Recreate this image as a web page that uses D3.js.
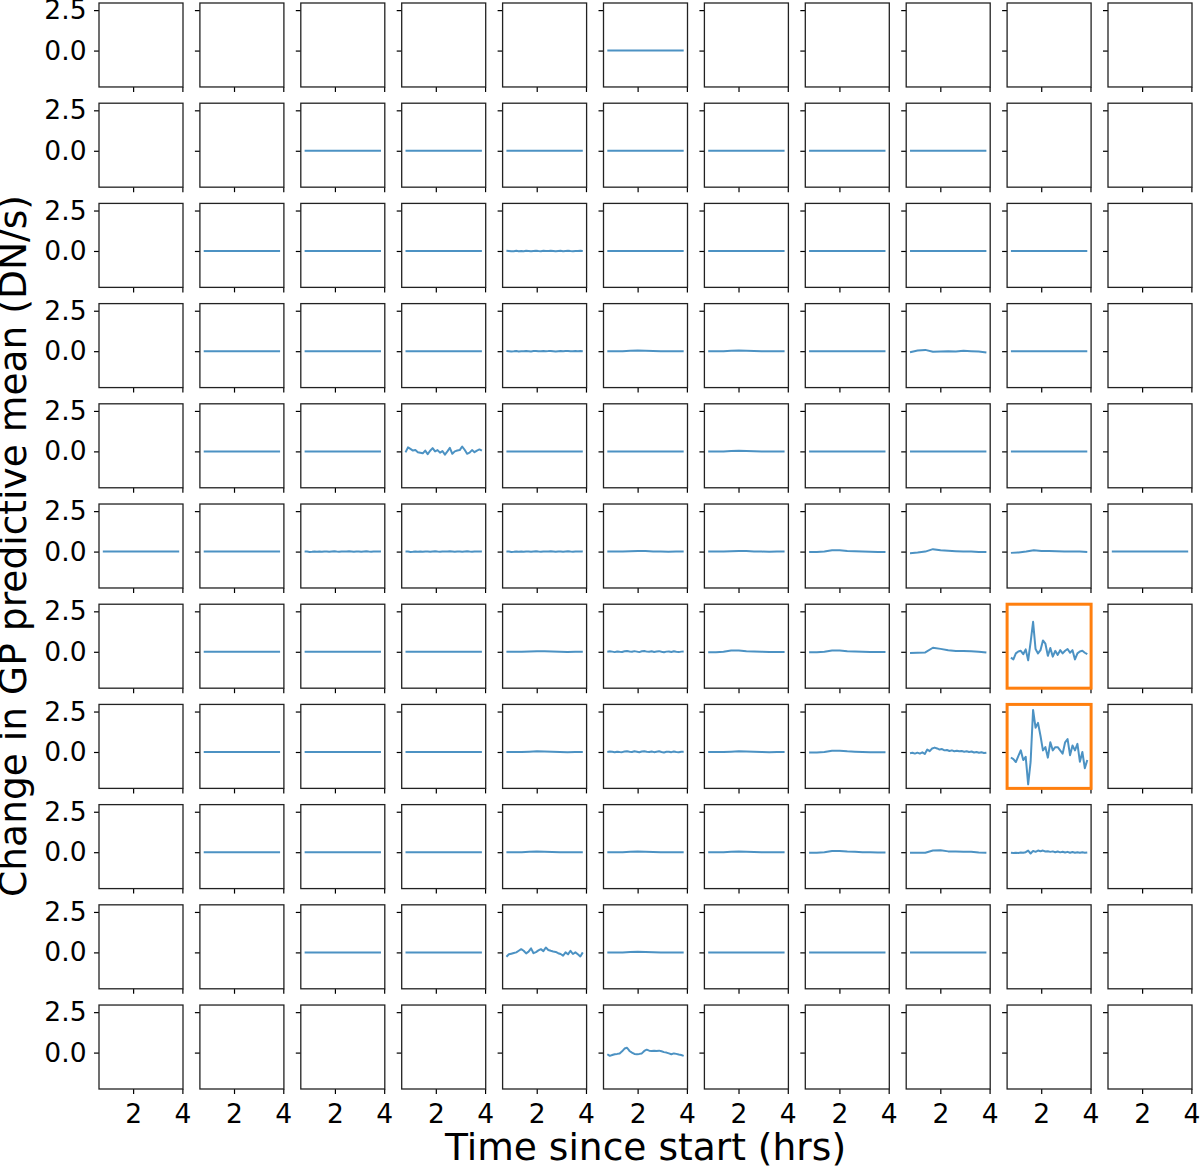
<!DOCTYPE html>
<html>
<head>
<meta charset="utf-8">
<script src="https://cdn.jsdelivr.net/npm/d3@7"></script>
<style>
  body { margin: 0; background: #fff; }
  svg { display: block; }
  text { font-family: "DejaVu Sans", sans-serif; fill: #000; }
</style>
</head>
<body>
<div id="chart"></div>
<script>
// ---- data ----
// time axis (hrs) : fine sampling for the noisy pixels, coarse for the smooth ones
var timeFine = [0.77, 0.87, 0.97, 1.07, 1.17, 1.27, 1.37, 1.47, 1.57, 1.67, 1.77, 1.87, 1.97, 2.07, 2.17, 2.27,
                2.37, 2.47, 2.57, 2.67, 2.77, 2.87, 2.97, 3.07, 3.17, 3.27, 3.37, 3.47, 3.57, 3.67, 3.77, 3.87]
var timeCoarse = [0.77, 1.08, 1.39, 1.70, 2.01, 2.32, 2.63, 2.94, 3.25, 3.56, 3.87]

var xTickValues = [2, 4]
var yTickValues = [0, 2.5]

// smooth / near-flat series (coarse)
var flatLine = [0, 0, 0, 0, 0, 0, 0, 0, 0, 0, 0]
var humpSmall = [0, 0, 0, 0.02, 0.04, 0.03, 0.01, 0, -0.01, 0, 0]
var humpMid = [-0.03, -0.03, 0, 0.08, 0.08, 0.04, 0.02, 0, -0.01, -0.02, -0.02]
var pixR3C8 = [-0.06, 0.04, 0.08, -0.03, -0.02, 0, -0.02, 0.02, 0, -0.02, -0.08]
var pixR5C8 = [-0.1, -0.06, 0, 0.15, 0.08, 0.05, 0.02, 0, 0, -0.02, -0.02]
var pixR5C9 = [-0.08, -0.05, 0, 0.08, 0.04, 0.03, 0.02, 0, 0, 0, -0.02]
var pixR6C8 = [-0.08, -0.06, -0.04, 0.25, 0.18, 0.1, 0.05, 0.05, 0.03, 0, -0.05]
var pixR8C8 = [-0.03, -0.03, -0.03, 0.1, 0.12, 0.05, 0.04, 0.03, 0.02, -0.02, -0.04]

// noisy series (fine)
var noiseTinyA = [0.01, 0, -0.02, -0.01, 0.01, -0.015, 0, -0.01, 0.01, 0, -0.015, 0.005, 0.015, 0, -0.01, 0.01,
                  0, 0.005, 0.015, 0, -0.015, 0, 0.01, -0.01, 0.005, 0.015, 0, -0.01, 0.005, 0, 0.01, 0]
var noiseTinyB = [0, 0.03, 0.01, -0.02, 0.02, 0, -0.01, 0.03, 0.05, 0.02, 0, 0.04, 0.01, -0.02, 0.03, 0.05,
                  0.01, 0, 0.03, -0.01, 0.02, 0.04, 0, -0.03, 0.01, 0.02, -0.01, 0.03, 0, -0.02, 0.01, 0.02]
var pixR4C3 = [-0.06, 0.25, 0.15, 0.05, 0.08, -0.05, -0.08, -0.12, 0.05, -0.17, 0.04, 0.2, 0, 0.08, -0.08, 0.02,
               -0.2, 0, 0.22, -0.15, 0, 0.05, 0.08, 0.3, 0.1, -0.15, -0.08, 0.08, -0.05, 0.05, 0.12, 0.04]
var pixR6C9 = [-0.36, -0.47, -0.1, 0.02, 0.06, -0.15, 0.15, -0.53, 0.6, 1.85, 0.17, -0.1, 0.1, 0.7, 0.5, -0.25,
               0.23, -0.3, 0.06, -0.19, 0.1, -0.1, 0.06, 0.17, -0.06, 0.1, -0.47, -0.1, 0.02, 0.06, -0.06, -0.15]
var pixR7C8 = [-0.08, -0.05, -0.1, -0.04, -0.1, -0.02, -0.12, 0.15, 0.05, 0.22, 0.27, 0.22, 0.15, 0.18, 0.1, 0.12,
               0.06, 0.1, 0.05, 0.08, 0.04, 0.06, 0.02, 0.05, 0, 0.03, -0.03, 0, -0.05, -0.02, -0.06, -0.04]
var pixR7C9 = [-0.34, -0.44, -0.62, -0.25, 0.1, -0.5, -0.3, -2.0, -0.6, 2.6, 1.5, 1.8, 1.0, 0.1, 0.3, -0.35,
               0.6, 0.1, 0.3, 0.3, 0.1, -0.1, 0.6, 0.8, -0.2, 0.4, 0.1, 0.5, -0.6, 0, -1.0, -0.5]
var pixR8C9 = [-0.04, -0.05, -0.03, -0.05, -0.02, -0.04, 0, 0.1, -0.08, 0.08, 0.02, 0.1, 0.06, 0.1, 0.04, 0.06,
               0.02, 0.05, 0, 0.04, -0.01, 0.03, -0.02, 0.02, -0.03, 0.01, -0.03, 0, -0.03, -0.01, -0.04, -0.02]
var pixR9C4 = [-0.27, -0.12, -0.08, -0.04, 0, 0.1, 0.2, 0.1, -0.06, 0.05, 0.25, -0.05, 0.02, 0.12, 0.2, 0.08,
               0.3, 0.15, 0.1, 0.06, 0.03, -0.05, -0.1, -0.2, 0, -0.12, 0.1, -0.1, 0, -0.12, -0.25, 0]
var pixR10C5 = [-0.1, -0.2, -0.15, -0.1, -0.08, -0.05, 0.08, 0.25, 0.3, 0.1, 0, -0.08, -0.1, -0.08, -0.05, 0.1,
                0.18, 0.12, 0.1, 0.12, 0.1, 0.12, 0.08, 0.03, 0, -0.05, -0.1, -0.05, -0.08, -0.12, -0.15, -0.2]

// which series sits in which pixel ('.' = no line)
var panelLayout = [
    ".....F.....",
    "..FFFFFFF..",
    ".FFFTFFFFF.",
    ".FFFThhFaF.",
    ".FFbFFhFFF.",
    "FFTTThhHcdF",
    ".FFFhUHHeg.",
    ".FFFhUhHij.",
    ".FFFhhhHkm.",
    "..FFnhFFF..",
    ".....p....."
]
var highlighted = ["6,9", "7,9"]

var seriesByCode = {
    F: flatLine, h: humpSmall, H: humpMid, T: noiseTinyA, U: noiseTinyB,
    a: pixR3C8, b: pixR4C3, c: pixR5C8, d: pixR5C9, e: pixR6C8, g: pixR6C9,
    i: pixR7C8, j: pixR7C9, k: pixR8C8, m: pixR8C9, n: pixR9C4, p: pixR10C5
}

// ---- chart ----
var width = 1200
var height = 1168
var nRows = panelLayout.length
var nCols = panelLayout[0].length

var svg = d3.select('#chart')
            .append('svg')
            .attr('width', width)
            .attr('height', height)

// grid of small panels
var colScale = d3.scaleBand().domain(d3.range(nCols)).range([99, 1192]).paddingInner(0.1675)
var rowScale = d3.scaleBand().domain(d3.range(nRows)).range([3, 1089]).paddingInner(0.162)
var pw = colScale.bandwidth()
var ph = rowScale.bandwidth()

// shared axes inside every panel
var xScale = d3.scaleLinear().domain([0.615, 4.025]).range([0, pw])
var yScale = d3.scaleLinear().domain([-2.25, 2.94]).range([ph, 0])

for (let r = 0; r < nRows; r++) {
    for (let c = 0; c < nCols; c++) {
        var panel = svg.append('g')
                       .attr('transform', 'translate(' + colScale(c) + ',' + rowScale(r) + ')')

        var code = panelLayout[r][c]
        if (code !== '.') {
            var values = seriesByCode[code]
            var times = values.length === timeFine.length ? timeFine : timeCoarse
            var line = d3.line()
                         .x((v, i) => xScale(times[i]))
                         .y((v) => yScale(v))
            panel.append('path')
                 .datum(values)
                 .attr('d', line)
                 .attr('fill', 'none')
                 .attr('stroke', '#1f77b4')
                 .attr('stroke-opacity', 0.8)
                 .attr('stroke-width', 2)
                 .attr('stroke-linejoin', 'round')
        }

        // y ticks (labels only on the first column)
        panel.append('g')
             .call(d3.axisLeft(yScale)
                     .tickValues(yTickValues)
                     .tickSize(5)
                     .tickSizeOuter(0)
                     .tickPadding(7.5)
                     .tickFormat(c === 0 ? d3.format('.1f') : () => ''))
        // x ticks (labels only on the bottom row)
        panel.append('g')
             .attr('transform', 'translate(0,' + ph + ')')
             .call(d3.axisBottom(xScale)
                     .tickValues(xTickValues)
                     .tickSize(5)
                     .tickSizeOuter(0)
                     .tickPadding(10)
                     .tickFormat(r === nRows - 1 ? d3.format('d') : () => ''))
        panel.selectAll('.domain').remove()
        panel.selectAll('.tick line').attr('stroke', '#000').attr('stroke-width', 1.2)
        panel.selectAll('.tick text')
             .attr('font-family', '"DejaVu Sans", sans-serif')
             .attr('font-size', 26.5)
             .attr('fill', '#000')

        var isHot = highlighted.indexOf(r + ',' + c) >= 0
        panel.append('rect')
             .attr('width', pw)
             .attr('height', ph)
             .attr('fill', 'none')
             .attr('stroke', isHot ? '#ff7f0e' : '#222')
             .attr('stroke-width', isHot ? 3 : 1.3)
    }
}

// axis titles
svg.append('text')
   .attr('x', (99 + 1192) / 2)
   .attr('y', 1160)
   .attr('text-anchor', 'middle')
   .attr('font-size', 37.6)
   .text('Time since start (hrs)')

svg.append('text')
   .attr('transform', 'translate(26,' + (3 + 1089) / 2 + ') rotate(-90)')
   .attr('text-anchor', 'middle')
   .attr('font-size', 37.6)
   .text('Change in GP predictive mean (DN/s)')
</script>
</body>
</html>
